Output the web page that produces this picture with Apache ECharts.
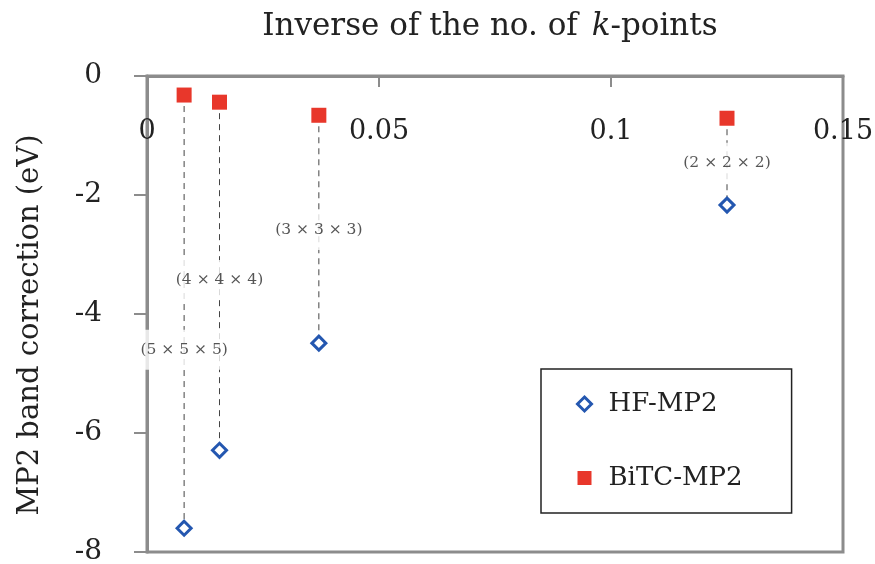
<!DOCTYPE html>
<html>
<head>
<meta charset="utf-8">
<script src="https://cdn.jsdelivr.net/npm/echarts@6/dist/echarts.min.js"></script>
<style>html,body{margin:0;padding:0;background:#fff}#chart{width:875px;height:564px}</style>
</head>
<body>
<div id="chart"></div>
<script>
// x: inverse of the number of k-points
var kInverse = [0.008, 0.015625, 0.037037, 0.125];
var hfMP2 = [-7.60, -6.29, -4.49, -2.17];
var bitcMP2 = [-0.32, -0.44, -0.66, -0.71];
var meshLabels = ['(5 × 5 × 5)', '(4 × 4 × 4)', '(3 × 3 × 3)', '(2 × 2 × 2)'];
var meshLabelY = [-4.60, -3.43, -2.59, -1.46];
var xTicks = [0, 0.05, 0.1, 0.15];
var yTicks = [-8, -6, -4, -2, 0];

var FONT = 'DejaVu Serif';
var GRAY = '#8c8c8c';
var BLUE = '#2457b0';
var RED = '#e8372b';

var chart = echarts.init(document.getElementById('chart'));

var series = [];
for (var i = 0; i < kInverse.length; i++) {
  series.push({
    name: 'drop' + i,
    type: 'line',
    data: [[kInverse[i], bitcMP2[i]], [kInverse[i], hfMP2[i]]],
    symbol: 'none',
    silent: true,
    z: 1,
    lineStyle: { color: '#444', width: 1, type: [6, 5] }
  });
}
series.push({
  name: 'labels',
  type: 'scatter',
  data: kInverse.map(function (x, i) { return [x, meshLabelY[i], meshLabels[i]]; }),
  symbolSize: 0,
  silent: true,
  z: 3,
  label: {
    show: true,
    position: 'inside',
    formatter: function (p) { return p.data[2]; },
    fontFamily: FONT,
    fontSize: 15.5,
    color: '#2a2a2a',
    backgroundColor: '#fff',
    padding: [12, 2]
  }
});
series.push({
  name: 'HF-MP2',
  type: 'scatter',
  data: kInverse.map(function (x, i) { return [x, hfMP2[i]]; }),
  symbol: 'diamond',
  symbolSize: 14,
  z: 5,
  itemStyle: { color: '#fff', borderColor: BLUE, borderWidth: 3, opacity: 1 }
});
series.push({
  name: 'BiTC-MP2',
  type: 'scatter',
  data: kInverse.map(function (x, i) { return [x, bitcMP2[i]]; }),
  symbol: 'rect',
  symbolSize: 15,
  z: 5,
  itemStyle: { color: RED, opacity: 1 }
});

chart.setOption({
  animation: false,
  backgroundColor: '#fff',
  graphic: [{
    type: 'text',
    x: 490, y: 27,
    style: {
      text: '{a|Inverse of the no. of }{k|k}{a|-points}',
      align: 'center',
      verticalAlign: 'middle',
      rich: {
        a: { fontFamily: FONT, fontSize: 31, fill: '#222' },
        k: { fontFamily: FONT, fontSize: 31, fontStyle: 'italic', fill: '#222', padding: [0, 0, 0, 4] }
      }
    }
  }],
  grid: {
    left: 147, right: 32, top: 76, bottom: 12,
    containLabel: false,
    outerBoundsMode: 'none',
    show: true, borderColor: GRAY, borderWidth: 3, backgroundColor: 'transparent'
  },
  xAxis: {
    type: 'value',
    position: 'top',
    min: xTicks[0], max: xTicks[xTicks.length - 1], interval: 0.05,
    axisLine: { show: true, lineStyle: { color: GRAY, width: 3 } },
    axisTick: { show: true, inside: true, length: 11, lineStyle: { color: GRAY, width: 2 } },
    axisLabel: {
      inside: true, margin: 42, fontFamily: FONT, fontSize: 27, color: '#222',
      showMinLabel: true, showMaxLabel: true
    },
    splitLine: { show: false }
  },
  yAxis: {
    type: 'value',
    min: yTicks[0], max: yTicks[yTicks.length - 1], interval: 2,
    name: 'MP2 band correction (eV)',
    nameLocation: 'middle',
    nameGap: 102,
    nameTextStyle: { fontFamily: FONT, fontSize: 29, color: '#222', padding: [0, 22, 0, 0] },
    axisLine: { show: true, lineStyle: { color: GRAY, width: 3 } },
    axisTick: { show: true, inside: false, length: 13, lineStyle: { color: GRAY, width: 2 } },
    axisLabel: { margin: 45, fontFamily: FONT, fontSize: 28, color: '#222' },
    splitLine: { show: false }
  },
  legend: {
    orient: 'vertical',
    left: 541, top: 369,
    padding: [20, 49, 20, 35],
    itemGap: 44,
    itemWidth: 14,
    itemHeight: 14,
    borderColor: '#222',
    borderWidth: 1.5,
    textStyle: { fontFamily: FONT, fontSize: 26, color: '#222', lineHeight: 30, padding: [0, 0, 0, 12] },
    data: [
      { name: 'HF-MP2', icon: 'diamond', itemStyle: { color: '#fff', borderColor: BLUE, borderWidth: 3 } },
      { name: 'BiTC-MP2', icon: 'rect', itemStyle: { color: RED } }
    ]
  },
  series: series
});
</script>
</body>
</html>
